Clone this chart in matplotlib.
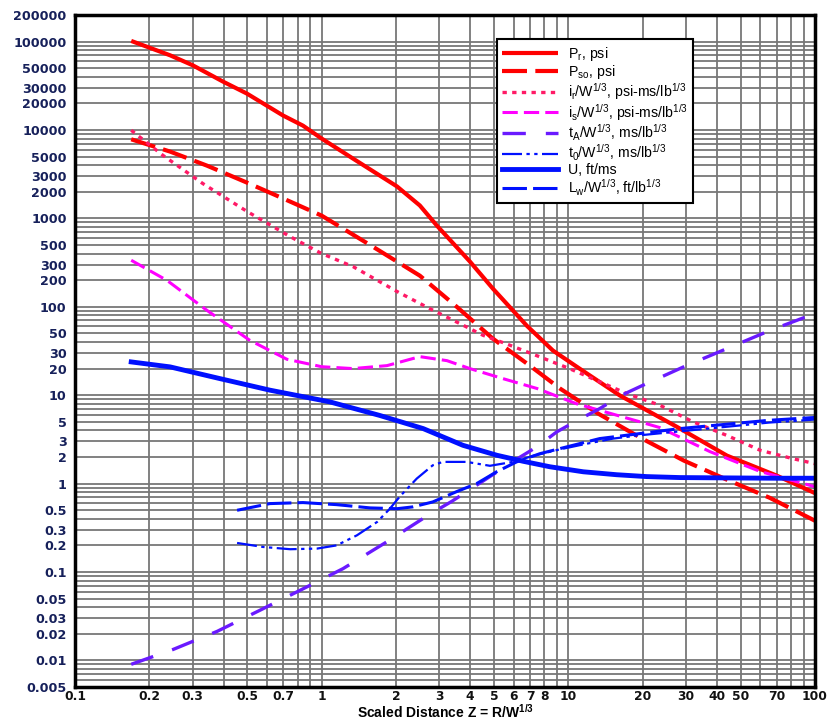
import matplotlib

matplotlib.use("Agg")
import matplotlib.pyplot as plt
from matplotlib.ticker import FixedLocator, LogLocator, NullFormatter

plt.rcParams["font.family"] = ["Liberation Sans", "DejaVu Sans"]
plt.rcParams["mathtext.fontset"] = "custom"
plt.rcParams["mathtext.rm"] = "Liberation Sans"
plt.rcParams["mathtext.it"] = "Liberation Sans:italic"
plt.rcParams["mathtext.bf"] = "Liberation Sans:bold"

# 读图得到的数据 (Z = R/W^1/3)
pr_z = [0.169, 0.243, 0.30, 0.398, 0.498, 0.697, 0.84, 1.0, 1.34, 2.02, 2.5, 2.93, 3.99,
        4.94, 6.79, 8.66, 11.1, 16.2, 27.5, 44, 70, 100]
pr_v = [101800, 70000, 54000, 35300, 25800, 14600, 11200, 8000, 4750, 2300, 1400, 830, 325,
        161, 61, 32, 20, 9.9, 4.4, 2.07, 1.23, 0.78]

pso_z = [0.169, 0.243, 0.343, 0.498, 0.745, 1.0, 1.61, 2.50, 3.53, 4.94, 6.98, 9.25,
         13.2, 19.9, 29.4, 43.5, 65.6, 100]
pso_v = [7850, 5700, 3950, 2540, 1550, 1075, 480, 225, 100, 43.7, 21.6, 11.9,
         6.2, 3.23, 1.82, 1.12, 0.69, 0.38]

ir_z = [0.169, 0.227, 0.330, 0.498, 0.745, 1.0, 1.34, 2.02, 2.75, 3.74, 4.51, 5.62,
        7.45, 10.1, 17.3, 23.5, 32, 44, 60, 81, 100]
ir_v = [9930, 5180, 2475, 1200, 622, 400, 285, 149, 95, 62, 47.6, 38,
        28, 20, 10.4, 7.7, 5.0, 3.5, 2.38, 1.92, 1.68]

is_z = [0.169, 0.236, 0.343, 0.511, 0.723, 1.0, 1.34, 1.84, 2.50, 3.22, 3.99, 5.43,
        7.47, 10.8, 19.5, 23.5, 37.5, 60, 100]
is_v = [336, 199, 91, 41.8, 25.5, 21, 20, 21.6, 27.3, 24.6, 20, 15.4,
        11.9, 8.0, 5.0, 4.3, 2.3, 1.37, 0.92]

ta_z = [0.169, 0.250, 0.377, 0.562, 0.817, 1.22, 1.84, 2.70, 3.37, 6.08, 7.45, 8.98,
        11.1, 13.4, 16.4, 20, 30.3, 44, 65.7, 100]
ta_v = [0.00903, 0.0133, 0.0213, 0.0369, 0.062, 0.109, 0.220, 0.438, 0.63, 1.84, 2.6, 3.85,
        5.34, 7.05, 9.97, 12.9, 21.8, 33.7, 54, 84]

t0_z = [0.454, 0.578, 0.745, 0.958, 1.15, 1.39, 1.68, 1.89, 2.07, 2.43, 2.82, 3.1,
        3.87, 4.81, 5.96, 7.2, 9.25, 11.9, 15.2, 19.5, 28.3, 44, 65, 100]
t0_v = [0.213, 0.192, 0.181, 0.184, 0.20, 0.26, 0.369, 0.52, 0.71, 1.14, 1.61, 1.76,
        1.76, 1.59, 1.76, 2.06, 2.44, 2.83, 3.23, 3.52, 3.9, 4.4, 4.9, 5.3]

u_z = [0.169, 0.243, 0.387, 0.617, 1.08, 1.72, 2.58, 3.74, 5.14, 6.55, 8.42, 11.5,
       15.7, 20.8, 28.3, 44, 70, 100]
u_v = [23.8, 20.9, 15.4, 11.4, 8.4, 5.9, 4.19, 2.71, 2.09, 1.79, 1.55, 1.36,
       1.26, 1.2, 1.17, 1.16, 1.15, 1.15]

lw_z = [0.454, 0.617, 0.84, 1.15, 1.57, 2.02, 2.34, 2.82, 3.52, 4.25, 5.12, 6.17,
        7.67, 9.84, 13.4, 19.5, 28.3, 44, 65, 100]
lw_v = [0.499, 0.594, 0.61, 0.578, 0.531, 0.52, 0.545, 0.62, 0.81, 1.0, 1.36, 1.76,
        2.18, 2.6, 3.23, 3.68, 4.19, 4.7, 5.2, 5.6]

x_ticks = [0.1, 0.2, 0.3, 0.5, 0.7, 1, 2, 3, 4, 5, 6, 7, 8, 10, 20, 30, 40, 50, 70, 100]
x_labels = ["0.1", "0.2", "0.3", "0.5", "0.7", "1", "2", "3", "4", "5", "6", "7", "8",
            "10", "20", "30", "40", "50", "70", "100"]
y_ticks = [0.005, 0.01, 0.02, 0.03, 0.05, 0.1, 0.2, 0.3, 0.5, 1, 2, 3, 5, 10, 20, 30, 50,
           100, 200, 300, 500, 1000, 2000, 3000, 5000, 10000, 20000, 30000, 50000,
           100000, 200000]
y_labels = ["0.005", "0.01", "0.02", "0.03", "0.05", "0.1", "0.2", "0.3", "0.5", "1", "2",
            "3", "5", "10", "20", "30", "50", "100", "200", "300", "500", "1000", "2000",
            "3000", "5000", "10000", "20000", "30000", "50000", "100000", "200000"]

fig = plt.figure(figsize=(8.29, 7.2), dpi=100, facecolor="white")
ax = fig.add_axes([75 / 829, 33 / 720, 740 / 829, 672 / 720])
ax.set_xscale("log")
ax.set_yscale("log")
ax.set_xlim(0.1, 100)
ax.set_ylim(0.005, 200000)

ax.plot(pr_z, pr_v, color="#ff0000", lw=3, solid_capstyle="butt",
        label=r"P$_\mathrm{r}$, psi")
ax.plot(pso_z, pso_v, color="#ff0000", lw=3, linestyle=(0, (6, 2)),
        label=r"P$_\mathrm{so}$, psi")
ax.plot(ir_z, ir_v, color="#ff1a66", lw=2.4, linestyle=(0, (1.3, 1.6)),
        label=r"i$_\mathrm{r}$/W$^{1/3}$, psi-ms/lb$^{1/3}$")
ax.plot(is_z, is_v, color="#ff00ff", lw=2.2, linestyle=(0, (5, 2)),
        label=r"i$_\mathrm{s}$/W$^{1/3}$, psi-ms/lb$^{1/3}$")
ax.plot(ta_z, ta_v, color="#6a1aff", lw=2.4, linestyle=(0, (7, 6)),
        label=r"t$_\mathrm{A}$/W$^{1/3}$, ms/lb$^{1/3}$")
ax.plot(t0_z, t0_v, color="#0010ff", lw=1.6, linestyle=(0, (9, 2, 1.5, 2, 1.5, 2)),
        label=r"t$_\mathrm{0}$/W$^{1/3}$, ms/lb$^{1/3}$")
ax.plot(u_z, u_v, color="#0010ff", lw=3.5, label="U, ft/ms")
ax.plot(lw_z, lw_v, color="#0010ff", lw=2.2, linestyle=(0, (8, 2)),
        label=r"L$_\mathrm{w}$/W$^{1/3}$, ft/lb$^{1/3}$")

ax.xaxis.set_major_locator(FixedLocator(x_ticks))
ax.set_xticklabels(x_labels)
ax.yaxis.set_major_locator(FixedLocator(y_ticks))
ax.set_yticklabels(y_labels)
ax.xaxis.set_minor_locator(LogLocator(base=10, subs=range(1, 10)))
ax.yaxis.set_minor_locator(LogLocator(base=10, subs=range(1, 10), numticks=20))
ax.xaxis.set_minor_formatter(NullFormatter())
ax.yaxis.set_minor_formatter(NullFormatter())

ax.grid(which="both", color="#777777", lw=1.3)
ax.set_axisbelow(True)
ax.tick_params(which="both", length=0)
ax.tick_params(axis="x", pad=2, labelcolor="#111111")
ax.tick_params(axis="y", pad=6, labelcolor="#16205a")
for lbl in ax.get_yticklabels():
    lbl.set_family("DejaVu Sans")
    lbl.set_fontweight("bold")
    lbl.set_fontsize(9.2)
for lbl in ax.get_xticklabels():
    lbl.set_family("DejaVu Sans")
    lbl.set_fontweight("bold")
    lbl.set_fontsize(8.8)
for sp in ax.spines.values():
    sp.set_linewidth(2.5)
    sp.set_color("black")

ax.set_xlabel(r"Scaled Distance Z = R/W$^{\mathbf{1/3}}$", fontsize=10,
              fontweight="bold", labelpad=0)

leg = ax.legend(loc="upper left", bbox_to_anchor=(0.570, 0.964), fontsize=10.2,
                frameon=True, fancybox=False, framealpha=1, edgecolor="black",
                handlelength=3.9, labelspacing=0.0, borderpad=0.4,
                handletextpad=0.7, borderaxespad=0)
leg.get_frame().set_linewidth(1.5)

fig.savefig("out.png", dpi=100, facecolor="white")
